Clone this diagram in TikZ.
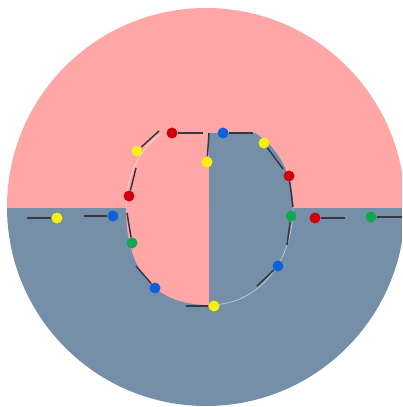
\documentclass[tikz,border=0pt]{standalone}
\usepackage{tikz}
\usetikzlibrary{positioning}
\definecolor{pinkzone}{RGB}{255,166,166}
\definecolor{bluezone}{RGB}{117,143,168}
\definecolor{dotred}{RGB}{208,0,16}
\definecolor{dotblue}{RGB}{16,96,216}
\definecolor{dotgreen}{RGB}{16,168,80}
\definecolor{dotyellow}{RGB}{248,240,16}
\definecolor{stick}{RGB}{52,56,64}
\tikzset{
    pin dot/.style={circle, inner sep=0pt, minimum size=11pt, fill=#1},
    stick line/.style={draw=stick, line width=1.5pt},
    faint rim/.style={draw=white, line width=0.8pt, opacity=0.5},
}

\begin{document}
\begin{tikzpicture}[x=1pt, y=-1pt]
		\useasboundingbox (0,0) rectangle (402,407);
		\begin{scope}
			\clip (206,207) circle (199);
			\fill[pinkzone] (0,0) rectangle (402,208);
			\fill[bluezone] (0,208) rectangle (402,407);
			\fill[bluezone] (209,133) -- (255,133) .. controls (275,145) and (293,170) .. (293,208) -- (209,208) -- cycle;
			\fill[pinkzone] (209,208) -- (126,208) .. controls (126,265) and (150,305) .. (209,305) -- cycle;
		\end{scope}
		\draw[faint rim] (126,208) .. controls (126,175) and (140,148) .. (162,133);
		\draw[faint rim] (293,208) .. controls (293,260) and (260,305) .. (209,305);
		\node[pin dot=dotred] (r1) at (172,133) {};
		\node[pin dot=dotblue] (b1) at (223,133) {};
		\node[pin dot=dotyellow] (y1) at (207,162) {};
		\node[pin dot=dotyellow] (y2) at (264,143) {};
		\node[pin dot=dotred] (r2) at (289,176) {};
		\node[pin dot=dotgreen] (g1) at (291,216) {};
		\node[pin dot=dotblue] (b2) at (278,266) {};
		\node[pin dot=dotyellow] (y3) at (214,306) {};
		\node[pin dot=dotblue] (b3) at (155,288) {};
		\node[pin dot=dotgreen] (g2) at (132,243) {};
		\node[pin dot=dotred] (r3) at (129,196) {};
		\node[pin dot=dotyellow] (y4) at (137,151) {};
		\node[pin dot=dotblue] (b4) at (113,216) {};
		\node[pin dot=dotyellow] (y5) at (57,218) {};
		\node[pin dot=dotred] (r4) at (315,218) {};
		\node[pin dot=dotgreen] (g3) at (371,217) {};
		\coordinate (r1e) at (203,133);
		\coordinate (b1e) at (253,133);
		\coordinate (y1e) at (209,133);
		\coordinate (y2e) at (283,169);
		\coordinate (r2e) at (293,207);
		\coordinate (g1e) at (287,245);
		\coordinate (b2e) at (257,286);
		\coordinate (y3e) at (186,306);
		\coordinate (b3e) at (136,266);
		\coordinate (g2e) at (127,213);
		\coordinate (r3e) at (136,168);
		\coordinate (y4e) at (159,131);
		\coordinate (b4e) at (84,216);
		\coordinate (y5e) at (27,218);
		\coordinate (r4e) at (345,218);
		\coordinate (g3e) at (402,217);
		\draw[stick line] (r1) -- (r1e);
		\draw[stick line] (b1) -- (b1e);
		\draw[stick line] (y1) -- (y1e);
		\draw[stick line] (y2) -- (y2e);
		\draw[stick line] (r2) -- (r2e);
		\draw[stick line] (g1) -- (g1e);
		\draw[stick line] (b2) -- (b2e);
		\draw[stick line] (y3) -- (y3e);
		\draw[stick line] (b3) -- (b3e);
		\draw[stick line] (g2) -- (g2e);
		\draw[stick line] (r3) -- (r3e);
		\draw[stick line] (y4) -- (y4e);
		\draw[stick line] (b4) -- (b4e);
		\draw[stick line] (y5) -- (y5e);
		\draw[stick line] (r4) -- (r4e);
		\draw[stick line] (g3) -- (g3e);
	\end{tikzpicture}
\end{document}
